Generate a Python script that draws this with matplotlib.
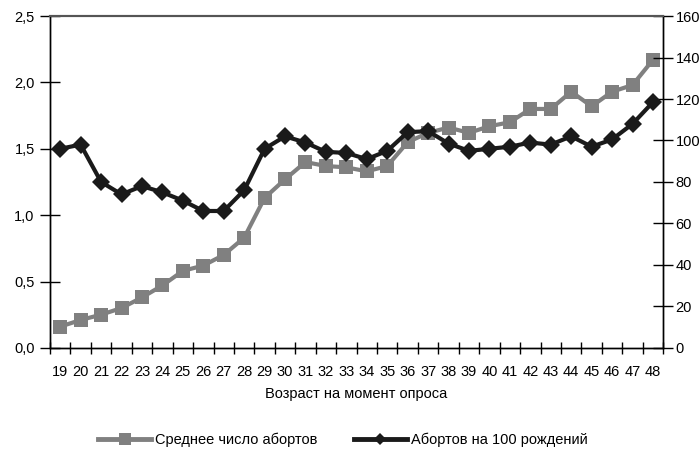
import matplotlib
matplotlib.use("Agg")
import matplotlib.pyplot as plt
from matplotlib.lines import Line2D
from matplotlib.ticker import FuncFormatter, MultipleLocator

plt.rcParams['font.family'] = ['Liberation Sans', 'DejaVu Sans']

# возраст на момент опроса
ages = list(range(19, 49))

# среднее число абортов (левая ось)
avg_abortions = [0.16, 0.21, 0.25, 0.30, 0.38, 0.47, 0.58, 0.62, 0.70, 0.83,
                 1.13, 1.27, 1.40, 1.37, 1.36, 1.33, 1.37, 1.55, 1.62, 1.66,
                 1.62, 1.67, 1.70, 1.80, 1.80, 1.93, 1.82, 1.93, 1.98, 2.17]

# абортов на 100 рождений (правая ось)
per_100_births = [96, 98, 80, 74, 78, 75, 71, 66, 66, 76,
                  96, 102, 99, 94.5, 94, 91, 95, 104, 104.5, 98.5,
                  95, 96, 97, 99, 98, 102, 97, 100.5, 108, 118.5]

gray = '#808080'
black = '#1a1a1a'
fs = 10.5

fig = plt.figure(figsize=(7, 4.72), dpi=100)
ax = fig.add_axes([0.0714, 0.263, 0.876, 0.703])
ax2 = ax.twinx()

ax.plot(ages, avg_abortions, color=gray, lw=3, marker='s', ms=9.5,
        markeredgewidth=0, zorder=3)
ax2.plot(ages, per_100_births, color=black, lw=3, marker='D', ms=9,
         markeredgewidth=0, zorder=4)

ax.set_xlim(18.5, 48.5)
ax.set_ylim(0, 2.5)
ax2.set_ylim(0, 160)

# подписи по центру категорий, засечки между ними
ax.set_xticks(ages)
ax.set_xticks([a - 0.5 for a in ages] + [48.5], minor=True)
ax.tick_params(axis='x', which='major', length=0, pad=12, labelsize=fs)
ax.tick_params(axis='x', which='minor', length=8, direction='inout', width=1)

ax.yaxis.set_major_locator(MultipleLocator(0.5))
ax.yaxis.set_major_formatter(FuncFormatter(lambda v, p: f'{v:.1f}'.replace('.', ',')))
ax.tick_params(axis='y', length=14, direction='inout', width=1, pad=4, labelsize=fs)

ax2.yaxis.set_major_locator(MultipleLocator(20))
ax2.tick_params(axis='y', length=14, direction='inout', width=1, pad=2, labelsize=fs)

for a in (ax, ax2):
    a.spines['top'].set_color('#555555')
    a.spines['top'].set_linewidth(1.5)
    for s in ('left', 'right', 'bottom'):
        a.spines[s].set_color('black')
        a.spines[s].set_linewidth(1)

ax.set_xlabel('Возраст на момент опроса', fontsize=fs, labelpad=6)

handles = [
    Line2D([], [], color=gray, lw=3.5, marker='s', ms=8.5, markeredgewidth=0),
    Line2D([], [], color=black, lw=3.5, marker='D', ms=6.5, markeredgewidth=0),
]
labels = ['Среднее число абортов', 'Абортов на 100 рождений']
fig.legend(handles, labels, loc='lower center', bbox_to_anchor=(0.49, 0.025),
           ncol=2, frameon=False, fontsize=fs, handlelength=3.6,
           columnspacing=2.5, handletextpad=0.3)

fig.savefig('out.png', dpi=100)
